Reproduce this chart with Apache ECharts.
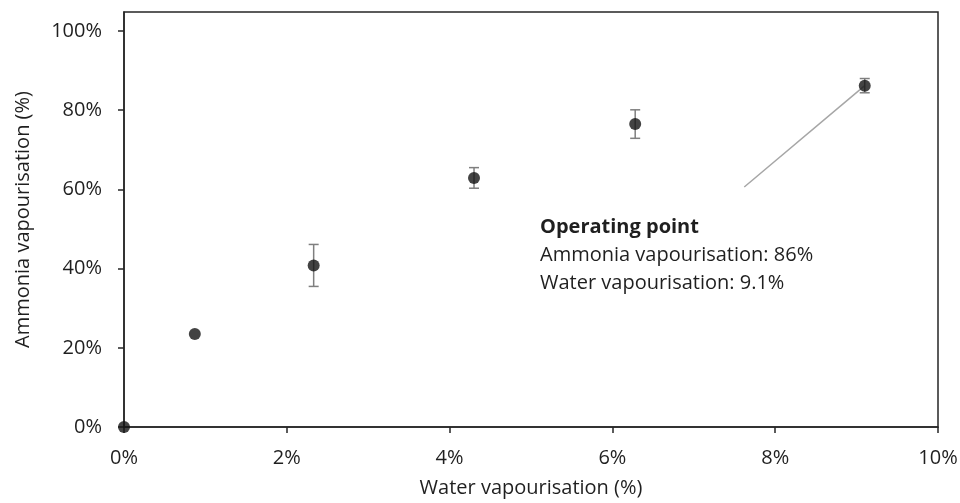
<!DOCTYPE html>
<html>
<head>
<meta charset="utf-8">
<script src="https://cdn.jsdelivr.net/npm/echarts@6/dist/echarts.min.js"></script>
<style>html,body{margin:0;padding:0;background:#fff}#c{width:960px;height:503px}</style>
</head>
<body>
<div id="c"></div>
<script>
// Data
var waterVap = [0, 0.87, 2.33, 4.30, 6.28, 9.10];       // x, %
var ammoniaVap = [0, 23.5, 40.8, 62.9, 76.5, 86.2];     // y, %
var ammoniaErr = [0, 0, 5.3, 2.6, 3.6, 1.8];            // +/- error, %
var xTicks = [0, 2, 4, 6, 8, 10];
var yTicks = [0, 20, 40, 60, 80, 100];
var leaderFrom = [7.62, 60.6];
var leaderTo = [9.10, 86.2];
var annotation = ['Operating point', 'Ammonia vapourisation: 86%', 'Water vapourisation: 9.1%'];

var FONT = 'Open Sans';
var FS = 20;
var TXT = '#1f1f1f';
var AX = '#262626';

var points = waterVap.map(function (x, i) { return [x, ammoniaVap[i]]; });
var errData = waterVap.map(function (x, i) { return [x, ammoniaVap[i] - ammoniaErr[i], ammoniaVap[i] + ammoniaErr[i]]; })
  .filter(function (d, i) { return ammoniaErr[i] > 0; });

var chart = echarts.init(document.getElementById('c'), null, {renderer: 'canvas'});
chart.setOption({
  animation: false,
  backgroundColor: '#fff',
  grid: {left: 124, right: 22, top: 12, bottom: 76, show: true, borderColor: AX, borderWidth: 1.5,
         backgroundColor: 'transparent', containLabel: false, outerBoundsMode: 'none'},
  xAxis: {
    type: 'value', min: 0, max: 10, interval: 2,
    name: 'Water vapourisation (%)', nameLocation: 'middle', nameGap: 51,
    nameTextStyle: {fontFamily: FONT, fontSize: FS, color: TXT},
    axisLine: {show: true, onZero: false, lineStyle: {color: AX, width: 1.5}},
    axisTick: {show: true, length: 6, inside: false, lineStyle: {color: AX, width: 1.5}, customValues: xTicks},
    axisLabel: {fontFamily: FONT, fontSize: FS, color: TXT, margin: 21, formatter: '{value}%', customValues: xTicks},
    splitLine: {show: false}
  },
  yAxis: {
    type: 'value', min: 0, max: 104.8, interval: 20,
    name: 'Ammonia vapourisation (%)', nameLocation: 'middle', nameGap: 91, nameRotate: 90,
    nameTextStyle: {fontFamily: FONT, fontSize: FS, color: TXT},
    axisLine: {show: true, onZero: false, lineStyle: {color: AX, width: 1.5}},
    axisTick: {show: true, length: 6, inside: false, lineStyle: {color: AX, width: 1.5}, customValues: yTicks},
    axisLabel: {fontFamily: FONT, fontSize: FS, color: TXT, margin: 22, formatter: '{value}%', customValues: yTicks},
    splitLine: {show: false}
  },
  graphic: [{
    type: 'text', left: 540, top: 217, z: 100,
    style: {
      text: '{b|' + annotation[0] + '}\n{n|' + annotation[1] + '}\n{n|' + annotation[2] + '}',
      rich: {
        b: {fontFamily: FONT, fontSize: FS, fontWeight: 'bold', fill: TXT, lineHeight: 28},
        n: {fontFamily: FONT, fontSize: FS, fill: TXT, lineHeight: 28}
      }
    }
  }],
  series: [
    {
      type: 'line', data: [leaderFrom, leaderTo], symbol: 'none', silent: true, z: 1,
      lineStyle: {color: '#a6a6a6', width: 1.5}
    },
    {
      type: 'custom', z: 2, silent: true,
      renderItem: function (params, api) {
        var x = api.value(0);
        var lo = api.coord([x, api.value(1)]);
        var hi = api.coord([x, api.value(2)]);
        var w = 5;
        var st = {stroke: '#7f7f7f', lineWidth: 1.5};
        return {type: 'group', children: [
          {type: 'line', shape: {x1: lo[0], y1: lo[1], x2: hi[0], y2: hi[1]}, style: st},
          {type: 'line', shape: {x1: lo[0] - w, y1: lo[1], x2: lo[0] + w, y2: lo[1]}, style: st},
          {type: 'line', shape: {x1: hi[0] - w, y1: hi[1], x2: hi[0] + w, y2: hi[1]}, style: st}
        ]};
      },
      encode: {x: 0, y: [1, 2]},
      data: errData
    },
    {
      type: 'scatter', data: points, symbol: 'circle', symbolSize: 12, z: 3,
      itemStyle: {color: '#141414'}
    }
  ]
});
</script>
</body>
</html>
